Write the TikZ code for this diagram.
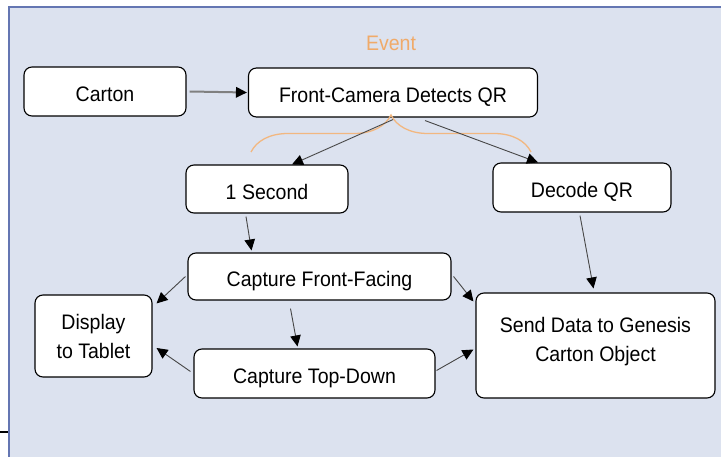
\documentclass[tikz,border=0pt]{standalone}
\usepackage{fontspec}
\setmainfont{Liberation Sans}[FakeStretch=0.93]
\usetikzlibrary{arrows.meta,decorations.pathreplacing}

\definecolor{panelbg}{RGB}{220,226,239}
\definecolor{panelrim}{RGB}{100,118,178}
\definecolor{eventtone}{RGB}{240,170,105}
\definecolor{linktone}{RGB}{70,70,70}

\tikzstyle{procbox}=[draw=black,fill=white,rounded corners=8pt,line width=1.1pt,inner sep=0pt,align=center,font=\fontsize{21}{29}\selectfont]
\tikzstyle{oneline}=[text height=21pt,text depth=0pt]
\tikzstyle{flow}=[draw=linktone,line width=0.9pt,-{Triangle[length=11pt,width=10.5pt,black]}]
\tikzstyle{feed}=[draw=gray,line width=2pt,-{Triangle[length=11pt,width=10.5pt,black]}]
\tikzstyle{eventbrace}=[draw=eventtone!85,line width=1.3pt,decorate,decoration={brace,amplitude=37pt}]

\begin{document}
\begin{tikzpicture}[x=1pt,y=-1pt]
        \useasboundingbox (0,0) rectangle (721,457);
        \fill[panelbg] (8.5,7.5) rectangle (721,457);
        \draw[panelrim,line width=2pt] (8.5,457) -- (8.5,7.5) -- (721,7.5);
        \draw[black,line width=2pt] (0,432) -- (7.5,432);
        %
        \draw (391,43) node[font=\fontsize{21}{24}\selectfont,text=eventtone](event){Event};
        \draw (105,91.5)    node[procbox,oneline,minimum width=162pt,minimum height=49pt](carton){Carton};
        \draw (393,92.5)    node[procbox,oneline,minimum width=289pt,minimum height=49pt](front){Front-Camera Detects QR};
        \draw (267,189)     node[procbox,oneline,minimum width=162pt,minimum height=48pt](sec){1 Second};
        \draw (582,187.5)   node[procbox,oneline,minimum width=178pt,minimum height=49pt](dec){Decode QR};
        \draw (319.5,276.5) node[procbox,oneline,minimum width=263pt,minimum height=47pt](cff){Capture Front-Facing};
        \draw (93.5,336)    node[procbox,text depth=0pt,minimum width=117pt,minimum height=82pt](disp){Display\\to Tablet};
        \draw (314.5,373.5) node[procbox,oneline,minimum width=241pt,minimum height=49pt](ctd){Capture Top-Down};
        \draw (595.5,345.5) node[procbox,text depth=12pt,minimum width=239pt,minimum height=105pt](send){Send Data to Genesis\\Carton Object};
        %
        \draw[eventbrace] (251,152) -- (531,152);
        %
        \path
            ([xshift=3pt]carton.east)                edge[feed]     ([xshift=-1pt]front.west)
            ([yshift=-2pt]front.south)               edge[flow]     ([xshift=25pt]sec.north)
            ([xshift=32pt,yshift=-3pt]front.south)   edge[flow]     ([xshift=-44pt]dec.north)
            ([xshift=-21pt,yshift=-3pt]sec.south)    edge[flow]     ([xshift=-68pt,yshift=2pt]cff.north)
            ([xshift=-2pt,yshift=-3pt]dec.south)     edge[flow]     ([xshift=-2pt,yshift=4pt]send.north)
            ([xshift=-2pt]cff.west)                  edge[flow]     ([xshift=4pt,yshift=-9pt]disp.north east)
            ([xshift=2pt]cff.east)                   edge[flow]     ([xshift=-2pt,yshift=-9pt]send.north west)
            ([xshift=-29pt,yshift=-8pt]cff.south)    edge[flow]     ([xshift=-17pt,yshift=2pt]ctd.north)
            ([xshift=-3pt,yshift=2pt]ctd.west)       edge[flow]     ([xshift=4pt,yshift=-12pt]disp.east)
            ([xshift=1pt,yshift=3pt]ctd.east)        edge[flow]     ([xshift=-2pt,yshift=-4pt]send.west)
        ;
\end{tikzpicture}
\end{document}
